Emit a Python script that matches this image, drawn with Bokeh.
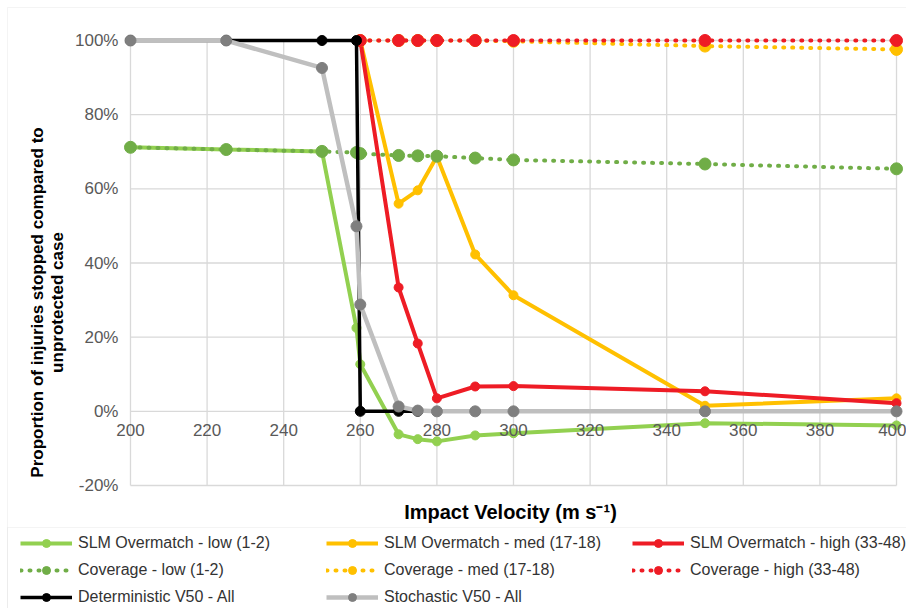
import math
from bokeh.plotting import figure
from bokeh.models import (Range1d, Legend, LegendItem, Label, FixedTicker, PrintfTickFormatter,
                          BoxAnnotation)
from bokeh.embed import file_html
from bokeh.resources import INLINE

# ---- data ----
x_all = [200, 225, 250, 259, 260, 270, 275, 280, 290, 300, 350, 400]
x_hi = [260, 270, 275, 280, 290, 300, 350, 400]
slm_low = [71.2, 70.6, 70.1, 22.5, 12.7, -6.2, -7.5, -8.1, -6.5, -5.9, -3.2, -3.8]
slm_med = [100, 56.0, 59.6, 68.7, 42.3, 31.3, 1.5, 3.5]
slm_high = [100, 33.4, 18.3, 3.5, 6.7, 6.8, 5.4, 2.2]
cov_low = [71.2, 70.6, 70.1, 69.8, 69.5, 69.0, 68.9, 68.8, 68.3, 67.8, 66.7, 65.4]
cov_med = [100, 100, 100, 100, 100, 99.8, 98.5, 97.6]
cov_high = [100, 100, 100, 100, 100, 100, 100, 100]
x_det = [200, 225, 250, 259, 260, 270, 275]
det = [100, 100, 100, 100, 0, 0, 0]
sto = [100, 100, 92.6, 49.9, 28.8, 1.3, 0.2, 0, 0, 0, 0, 0]
x_ticks = [200, 220, 240, 260, 280, 300, 320, 340, 360, 380, 400]
y_ticks = [-20, 0, 20, 40, 60, 80, 100]
labels = ["SLM Overmatch - low (1-2)", "SLM Overmatch - med (17-18)", "SLM Overmatch - high (33-48)",
          "Coverage - low (1-2)", "Coverage - med (17-18)", "Coverage - high (33-48)",
          "Deterministic V50 - All", "Stochastic V50 - All"]
x_title = "Impact Velocity (m s\u207b\u00b9)"
y_title = ["Proportion of injuries stopped compared to", "unprotected case"]

FONT = "Liberation Sans"
GREEN = "#92D050"
DGREEN = "#70AD47"
YELLOW = "#FFC000"
RED = "#EE1C25"
GREY = "#BFBFBF"
DGREY = "#7F7F7F"
FRAME_GREY = "#D9D9D9"

# (line colour, line width, dash, marker colour, marker size) per series
styles = [
    (GREEN, 4, "solid", GREEN, 9),
    (YELLOW, 4, "solid", YELLOW, 9),
    (RED, 4, "solid", RED, 9),
    (DGREEN, 4, "1 8", DGREEN, 12),
    (YELLOW, 4, "1 8", YELLOW, 12),
    (RED, 4, "1 8", RED, 12),
    ("black", 3.5, "solid", "black", 10),
    (GREY, 4.5, "solid", DGREY, 11),
]
series = [(x_all, slm_low), (x_hi, slm_med), (x_hi, slm_high),
          (x_all, cov_low), (x_hi, cov_med), (x_hi, cov_high),
          (x_det, det), (x_all, sto)]

# the frame covers the whole picture; axes sit at fixed data positions inside it
p = figure(frame_width=906, frame_height=608,
           x_range=Range1d(166.06, 402.61), y_range=Range1d(-53.17, 110.79),
           output_backend="svg", toolbar_location=None, min_border=0)
p.outline_line_color = None
p.xgrid.visible = False
p.ygrid.visible = False

# chart border and legend box (only their top/left edges fall inside the picture)
p.add_layout(BoxAnnotation(left=7, right=2000, top=7, bottom=2000,
                           left_units="canvas", right_units="canvas", top_units="canvas",
                           bottom_units="canvas", fill_alpha=0, line_color=FRAME_GREY, line_width=1))
p.add_layout(BoxAnnotation(left=7, right=2000, top=527, bottom=2000,
                           left_units="canvas", right_units="canvas", top_units="canvas",
                           bottom_units="canvas", fill_alpha=0, line_color=FRAME_GREY, line_width=1))

# grid drawn over the tick extents
p.segment(x0=x_ticks, y0=[y_ticks[0]] * len(x_ticks), x1=x_ticks, y1=[y_ticks[-1]] * len(x_ticks),
          line_color=FRAME_GREY, line_width=1.3)
p.segment(x0=[x_ticks[0]] * len(y_ticks), y0=y_ticks, x1=[x_ticks[-1]] * len(y_ticks), y1=y_ticks,
          line_color=FRAME_GREY, line_width=1.3)

# axes
p.xaxis.ticker = FixedTicker(ticks=x_ticks)
p.xaxis.fixed_location = 0
p.yaxis.ticker = FixedTicker(ticks=y_ticks)
p.yaxis.fixed_location = x_ticks[0]
p.yaxis.formatter = PrintfTickFormatter(format="%d%%")
for ax in (p.xaxis, p.yaxis):
    ax.axis_line_color = None
    ax.major_tick_line_color = None
    ax.minor_tick_line_color = None
    ax.major_tick_out = 0
    ax.major_tick_in = 0
    ax.minor_tick_out = 0
    ax.major_label_text_font = FONT
    ax.major_label_text_font_size = "17px"
    ax.major_label_text_color = "#595959"
p.xaxis.major_label_standoff = 13
p.yaxis.major_label_standoff = 12

# series
rend = []
for (xs, ys), (lc, lw, dash, mc, ms) in zip(series, styles):
    kw = dict(line_dash=dash, line_cap="round") if dash != "solid" else {}
    lr = p.line(xs, ys, line_color=lc, line_width=lw, **kw)
    sr = p.scatter(xs, ys, size=ms, fill_color=mc, line_color=mc)
    rend.append([lr, sr])

# axis titles
p.add_layout(Label(x=510, y=97, x_units="screen", y_units="screen", text=x_title,
                   text_align="center", text_baseline="middle", text_font=FONT,
                   text_font_size="20px", text_font_style="bold", text_color="black"))
for txt, sx in zip(y_title, [37, 57]):
    p.add_layout(Label(x=sx, y=306, x_units="screen", y_units="screen", text=txt, angle=math.pi / 2,
                       text_align="center", text_baseline="middle", text_font=FONT,
                       text_font_size="17px", text_font_style="bold", text_color="black"))

items = [LegendItem(label=lab, renderers=rs) for lab, rs in zip(labels, rend)]
legend = Legend(items=items, ncols=3, orientation="horizontal", location=(20, 1),
                glyph_width=52, glyph_height=20, label_standoff=6, spacing=7, padding=0, margin=0,
                label_width=241, label_text_font=FONT, label_text_font_size="16px",
                label_text_color="#333333", border_line_color=None,
                background_fill_alpha=0)
p.add_layout(legend, "center")

open("out.html", "w").write(file_html(p, INLINE))
